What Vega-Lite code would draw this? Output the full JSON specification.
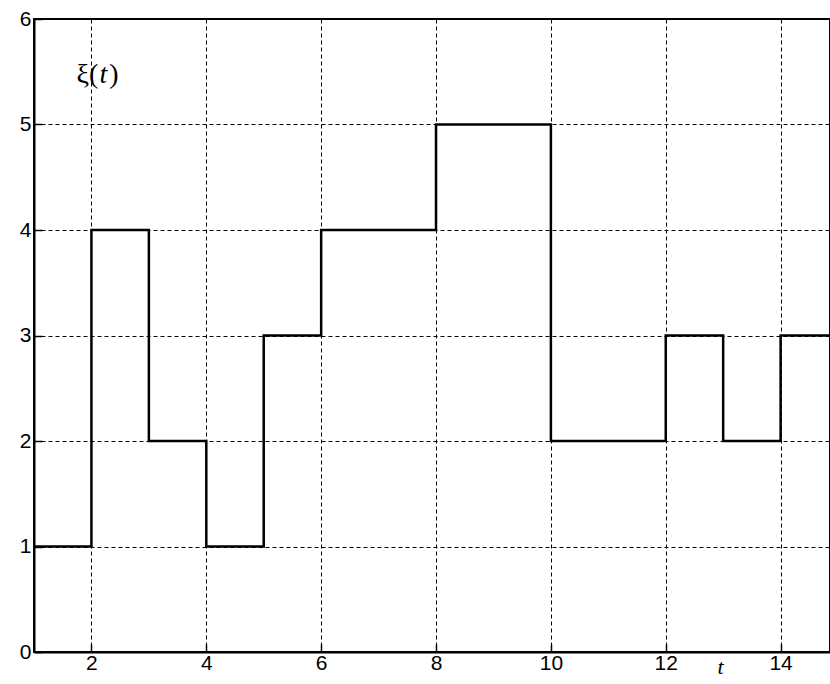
{
  "$schema": "https://vega.github.io/schema/vega-lite/v6.json",
  "autosize": {"type": "none"},
  "padding": {"left": 34, "top": 19, "right": 0, "bottom": 32},
  "width": 796,
  "height": 633,
  "background": "white",
  "config": {
    "view": {"stroke": "#000000", "strokeWidth": 2},
    "axis": {
      "labelFont": "Liberation Sans",
      "labelFontSize": 21,
      "labelColor": "#000000",
      "domainColor": "#000000",
      "domainWidth": 2,
      "tickColor": "#000000",
      "tickSize": -8,
      "tickWidth": 1.5,
      "grid": true,
      "gridColor": "#000000",
      "gridDash": [4, 3],
      "gridWidth": 1,
      "gridOpacity": 1
    }
  },
  "datasets": {
    "steps": [
      {"t": 1, "xi": 1},
      {"t": 2, "xi": 4},
      {"t": 3, "xi": 2},
      {"t": 4, "xi": 1},
      {"t": 5, "xi": 3},
      {"t": 6, "xi": 4},
      {"t": 8, "xi": 5},
      {"t": 10, "xi": 2},
      {"t": 12, "xi": 3},
      {"t": 13, "xi": 2},
      {"t": 14, "xi": 3},
      {"t": 15, "xi": 3}
    ],
    "lab1": [{"t": 2.12, "xi": 5.47, "s": "ξ("}],
    "lab2": [{"t": 2.21, "xi": 5.47, "s": "t"}],
    "lab3": [{"t": 2.31, "xi": 5.47, "s": ")"}]
  },
  "layer": [
    {
      "data": {"name": "steps"},
      "mark": {"type": "line", "interpolate": "step-after", "color": "#000000", "strokeWidth": 2.5, "clip": true},
      "encoding": {
        "x": {
          "field": "t", "type": "quantitative",
          "scale": {"domain": [1, 14.86], "nice": false, "zero": false},
          "axis": {
            "values": [2, 4, 6, 8, 10, 12, 14],
            "format": "d",
            "labelPadding": 8,
            "title": "t",
            "titleFont": "Liberation Serif",
            "titleFontStyle": "italic",
            "titleFontWeight": "normal",
            "titleFontSize": 22,
            "titleColor": "#000000",
            "titleX": 686,
            "titleY": 14,
            "titleBaseline": "middle",
            "titleAlign": "center"
          }
        },
        "y": {
          "field": "xi", "type": "quantitative",
          "scale": {"domain": [0, 6], "nice": false},
          "axis": {"values": [0, 1, 2, 3, 4, 5, 6], "format": "d", "labelPadding": 11, "title": null}
        }
      }
    },
    {
      "data": {"name": "lab1"},
      "mark": {"type": "text", "font": "Liberation Serif", "fontSize": 28, "color": "#000000", "align": "right", "baseline": "middle"},
      "encoding": {
        "x": {"field": "t", "type": "quantitative"},
        "y": {"field": "xi", "type": "quantitative"},
        "text": {"field": "s"}
      }
    },
    {
      "data": {"name": "lab2"},
      "mark": {"type": "text", "font": "Liberation Serif", "fontSize": 28, "fontStyle": "italic", "color": "#000000", "align": "center", "baseline": "middle"},
      "encoding": {
        "x": {"field": "t", "type": "quantitative"},
        "y": {"field": "xi", "type": "quantitative"},
        "text": {"field": "s"}
      }
    },
    {
      "data": {"name": "lab3"},
      "mark": {"type": "text", "font": "Liberation Serif", "fontSize": 28, "color": "#000000", "align": "left", "baseline": "middle"},
      "encoding": {
        "x": {"field": "t", "type": "quantitative"},
        "y": {"field": "xi", "type": "quantitative"},
        "text": {"field": "s"}
      }
    }
  ]
}
